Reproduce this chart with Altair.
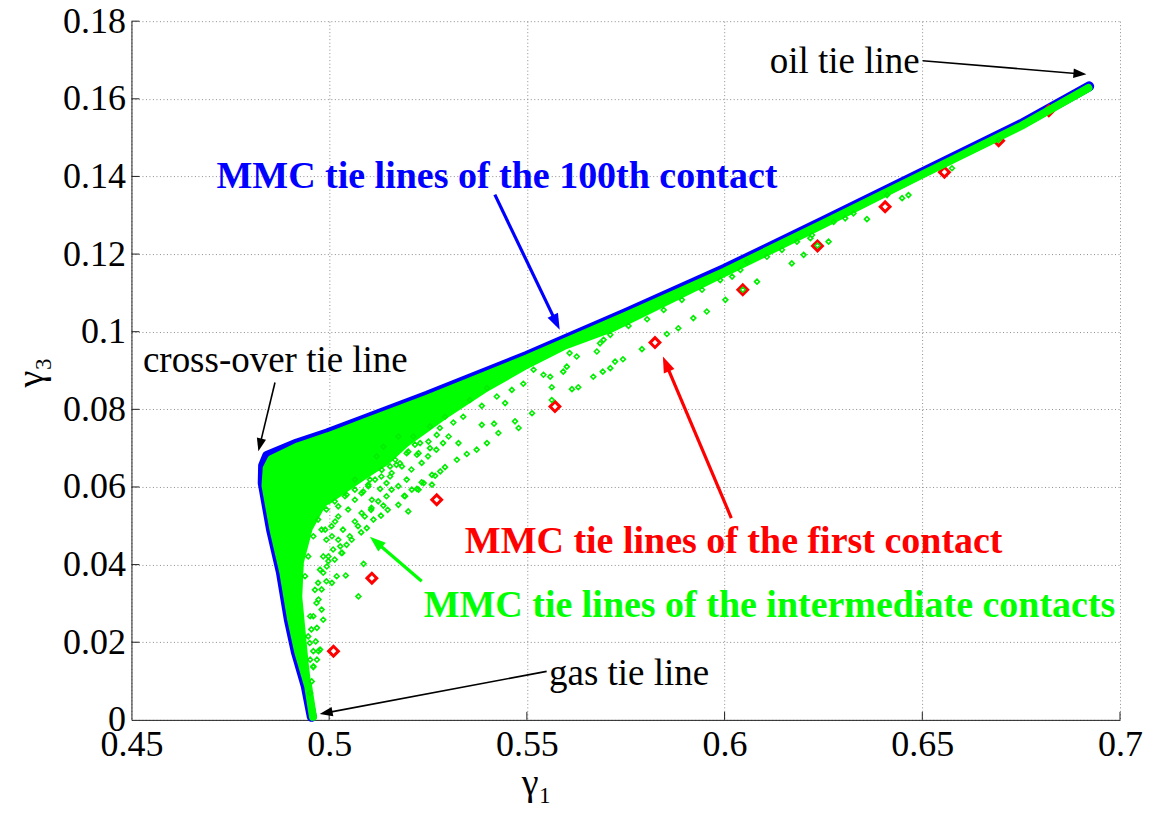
import math
import altair as alt
import pandas as pd

# ---------------- data ----------------
X_TICKS = [0.45, 0.5, 0.55, 0.6, 0.65, 0.7]
Y_TICKS = [0.0, 0.02, 0.04, 0.06, 0.08, 0.1, 0.12, 0.14, 0.16, 0.18]

# MMC tie lines of the 100th contact (blue band)
blue_x = [0.4956, 0.4941, 0.4916, 0.4898, 0.4878, 0.4853, 0.4832, 0.4833, 0.4843, 0.4919,
          0.4995, 0.5086, 0.5248, 0.5500, 0.5750, 0.6000, 0.6250, 0.6500, 0.6750, 0.6922]
blue_y = [0.0008, 0.0086, 0.0174, 0.0258, 0.0380, 0.0490, 0.0610, 0.0655, 0.0680, 0.0712,
          0.0738, 0.0773, 0.0835, 0.0938, 0.1048, 0.1162, 0.1285, 0.1410, 0.1535, 0.1632]

# outermost intermediate contact (green edge just inside the blue band)
c0_x = [0.4959, 0.4947, 0.4922, 0.4904, 0.4884, 0.4859, 0.4839, 0.4842, 0.4854, 0.4922,
        0.4998, 0.5088, 0.5249, 0.5500, 0.5750, 0.6000, 0.6250, 0.6500, 0.6750, 0.6920]
c0_y = [0.0008, 0.0086, 0.0174, 0.0258, 0.0380, 0.0490, 0.0603, 0.0648, 0.0672, 0.0705,
        0.0731, 0.0766, 0.0828, 0.0931, 0.1041, 0.1155, 0.1279, 0.1405, 0.1530, 0.1628]

# densely packed intermediate contacts: upper leg (x, upper edge, lower edge)
dense_top_x = [0.4840, 0.4870, 0.4900, 0.4950, 0.5000, 0.5050, 0.5100, 0.5150, 0.5200, 0.5300,
               0.5400, 0.5500, 0.5600, 0.5720, 0.5800, 0.6000, 0.6250, 0.6500, 0.6750, 0.6920]
dense_top_hi = [0.0640, 0.0684, 0.0697, 0.0714, 0.0732, 0.0751, 0.0770, 0.0789, 0.0809, 0.0848,
                0.0889, 0.0931, 0.0975, 0.1028, 0.1064, 0.1155, 0.1279, 0.1405, 0.1530, 0.1628]
dense_top_lo = [0.0600, 0.0570, 0.0555, 0.0545, 0.0555, 0.0590, 0.0625, 0.0658, 0.0705, 0.0778,
                0.0845, 0.0903, 0.0955, 0.1000, 0.1040, 0.1140, 0.1265, 0.1395, 0.1523, 0.1627]
# densely packed intermediate contacts: left leg (y, left edge, right edge)
dense_left_y = [0.0008, 0.0060, 0.0147, 0.0232, 0.0317, 0.0405, 0.0490, 0.0540, 0.0575, 0.0620]
dense_left_lo = [0.4959, 0.4950, 0.4930, 0.4911, 0.4897, 0.4880, 0.4859, 0.4850, 0.4843, 0.4840]
dense_left_hi = [0.4962, 0.4958, 0.4948, 0.4940, 0.4932, 0.4936, 0.4958, 0.4985, 0.5010, 0.5060]

# scattered intermediate-contact tie lines (green diamonds)
green_x = [
    0.5074, 0.5087, 0.5042, 0.5019, 0.5007, 0.4985, 0.4969, 0.4966, 0.4960, 0.4960,
    0.5065, 0.5082, 0.5106, 0.5112, 0.5095, 0.5081, 0.5131, 0.5137, 0.5148, 0.5175,
    0.5200, 0.5190, 0.5209, 0.5226, 0.5234, 0.5260, 0.5260, 0.5281, 0.5293, 0.5129,
    0.5108, 0.5099, 0.5133, 0.5154, 0.5184, 0.5167, 0.5200, 0.5226, 0.5217, 0.5251,
    0.5272, 0.5175, 0.5065, 0.5044, 0.5023, 0.5015, 0.4990, 0.5007, 0.5028, 0.5044,
    0.5057, 0.4985, 0.4977, 0.4994, 0.4964, 0.4973, 0.4981, 0.4952, 0.4947, 0.4952,
    0.4998, 0.5033,
    0.5470, 0.5479, 0.5428, 0.5417, 0.5386, 0.5399, 0.5373, 0.5348, 0.5323, 0.5268,
    0.5239, 0.5222, 0.5192, 0.5491, 0.5462, 0.5445, 0.5386, 0.5339, 0.5314, 0.5327,
    0.5302, 0.5280, 0.5255, 0.5230, 0.5222, 0.5196, 0.5179, 0.5154, 0.5103, 0.5086,
    0.5424, 0.5399, 0.5356, 0.5293, 0.5255, 0.5213, 0.5137, 0.5120,
    0.5723, 0.5743, 0.5711, 0.5692, 0.5668, 0.5630, 0.5614, 0.5563, 0.5563, 0.5513,
    0.5559, 0.5592, 0.5601, 0.5626, 0.5677, 0.5694, 0.5608, 0.5517, 0.5542,
    0.6305, 0.6263, 0.6217, 0.6200, 0.6170, 0.6145, 0.6107, 0.6082, 0.6040, 0.6019,
    0.6002, 0.5955, 0.5921, 0.5883, 0.5854, 0.5791, 0.5943, 0.5892, 0.5846, 0.5804,
    0.5757, 0.5711, 0.5685, 0.5989, 0.6057, 0.6183, 0.6046, 0.6235,
    0.6360, 0.6449, 0.6465, 0.6575, 0.6693, 0.6221, 0.6276, 0.6326, 0.6411,
    0.4973, 0.4969, 0.4960, 0.4956, 0.4952, 0.4977,
    0.4981, 0.4993, 0.5006, 0.5023, 0.5035, 0.5048, 0.5065, 0.5082, 0.5099, 0.5116,
    0.5132, 0.5145, 0.5158, 0.5170, 0.5023, 0.5010, 0.4998, 0.4985, 0.4972, 0.4968,
    0.4960, 0.4955, 0.4951, 0.4981, 0.4993, 0.5014, 0.5031, 0.5052, 0.5073, 0.5090,
    0.5107, 0.5124, 0.5145, 0.5158, 0.5175, 0.5196, 0.5208, 0.5234, 0.5250, 0.5271,
    0.5288, 0.5065, 0.5040, 0.5014, 0.4993, 0.4972, 0.4960, 0.4947, 0.4939,
]
green_y = [
    0.0318, 0.0402, 0.0372, 0.0370, 0.0353, 0.0258, 0.0237, 0.0202, 0.0177, 0.0136,
    0.0511, 0.0533, 0.0541, 0.0516, 0.0494, 0.0483, 0.0526, 0.0552, 0.0541, 0.0554,
    0.0537, 0.0577, 0.0593, 0.0593, 0.0612, 0.0606, 0.0631, 0.0640, 0.0651, 0.0595,
    0.0567, 0.0606, 0.0644, 0.0627, 0.0653, 0.0670, 0.0691, 0.0687, 0.0709, 0.0717,
    0.0734, 0.0730, 0.0619, 0.0580, 0.0550, 0.0511, 0.0490, 0.0473, 0.0447, 0.0451,
    0.0464, 0.0421, 0.0387, 0.0395, 0.0335, 0.0310, 0.0284, 0.0267, 0.0215, 0.0155,
    0.0421, 0.0430,
    0.0769, 0.0752, 0.0739, 0.0763, 0.0760, 0.0713, 0.0696, 0.0685, 0.0670, 0.0629,
    0.0610, 0.0595, 0.0576, 0.0866, 0.0850, 0.0816, 0.0809, 0.0781, 0.0766, 0.0713,
    0.0730, 0.0752, 0.0700, 0.0713, 0.0683, 0.0687, 0.0661, 0.0653, 0.0619, 0.0588,
    0.0833, 0.0855, 0.0824, 0.0781, 0.0756, 0.0730, 0.0704, 0.0679,
    0.0923, 0.0929, 0.0906, 0.0897, 0.0884, 0.0857, 0.0852, 0.0857, 0.0824, 0.0790,
    0.0884, 0.0897, 0.0910, 0.0936, 0.0949, 0.0979, 0.0945, 0.0902, 0.0889,
    0.1292, 0.1232, 0.1241, 0.1198, 0.1176, 0.1211, 0.1193, 0.1129, 0.1159, 0.1142,
    0.1082, 0.1052, 0.1035, 0.1009, 0.0994, 0.0955, 0.1108, 0.1082, 0.1056, 0.1032,
    0.1015, 0.0992, 0.0970, 0.1133, 0.1180, 0.1232, 0.1108, 0.1222,
    0.1290, 0.1344, 0.1352, 0.1421, 0.1494, 0.1249, 0.1283, 0.1305, 0.1352,
    0.0177, 0.0155, 0.0138, 0.0099, 0.0069, 0.0181,
    0.0490, 0.0464, 0.0499, 0.0524, 0.0490, 0.0542, 0.0567, 0.0584, 0.0602, 0.0619,
    0.0627, 0.0610, 0.0636, 0.0657, 0.0464, 0.0439, 0.0409, 0.0379, 0.0353, 0.0301,
    0.0267, 0.0233, 0.0198, 0.0336, 0.0357, 0.0413, 0.0430, 0.0473, 0.0499, 0.0524,
    0.0546, 0.0563, 0.0576, 0.0593, 0.0602, 0.0619, 0.0645, 0.0662, 0.0679, 0.0696,
    0.0713, 0.0593, 0.0576, 0.0563, 0.0542, 0.0516, 0.0473, 0.0421, 0.0370,
]

# MMC tie lines of the first contact (red diamonds)
red_x = [0.5011, 0.5108, 0.5272, 0.5571, 0.5824, 0.6046, 0.6235, 0.6406, 0.6556, 0.6693, 0.6820]
red_y = [0.0177, 0.0365, 0.0567, 0.0807, 0.0972, 0.1108, 0.1221, 0.1322, 0.1411, 0.1492, 0.1569]

# annotations
label_text = ["oil tie line", "cross-over tie line", "gas tie line",
              "MMC tie lines of the 100th contact", "MMC tie lines of the first contact",
              "MMC tie lines of the intermediate contacts"]
label_x = [0.6114, 0.4529, 0.5556, 0.4715, 0.5343, 0.5239]
label_y = [0.1667, 0.0895, 0.0091, 0.1370, 0.0430, 0.0265]
label_color = ["black", "black", "black", "#0000ff", "#ff0000", "#00ff00"]
label_bold = [False, False, False, True, True, True]

arrow_x0 = [0.6501, 0.4863, 0.5550, 0.5419, 0.6017, 0.5234]
arrow_y0 = [0.1698, 0.0869, 0.0125, 0.1353, 0.0520, 0.0357]
arrow_x1 = [0.6915, 0.4821, 0.4976, 0.5583, 0.5844, 0.5103]
arrow_y1 = [0.1663, 0.0692, 0.0015, 0.1005, 0.0936, 0.0472]
arrow_color = ["black", "black", "black", "#0000ff", "#ff0000", "#00ff00"]
arrow_width = [1.6, 1.6, 1.6, 3.2, 3.2, 3.2]
arrow_head = [13, 13, 13, 16, 16, 16]

# ---------------- geometry helpers ----------------
W, H = 989, 699
XPP = (X_TICKS[-1] - X_TICKS[0]) / W
YPP = (Y_TICKS[-1] - Y_TICKS[0]) / H
FONT = "Liberation Serif, Times New Roman, Tinos, DejaVu Serif, serif"
GREEN = "#00ff00"

xs = alt.Scale(domain=[X_TICKS[0], X_TICKS[-1]], nice=False, zero=False)
ys = alt.Scale(domain=[Y_TICKS[0], Y_TICKS[-1]], nice=False, zero=False)

x_axis = alt.Axis(values=X_TICKS, format=".2~f", title="γ₁", grid=True,
                  gridColor="#8c8c8c", gridDash=[1, 2.5], gridWidth=1, ticks=False,
                  domainColor="#202020", domainWidth=1, labelFont=FONT, labelFontSize=36,
                  labelColor="black", labelPadding=8, labelFlush=False, labelOverlap=False,
                  titleFont=FONT, titleFontSize=38, titleFontWeight="normal", titleColor="black",
                  titleX=405, titleY=75, titleAlign="center", titleBaseline="alphabetic")
y_axis = alt.Axis(values=Y_TICKS, format=".2~f", title="γ₃", grid=True,
                  gridColor="#8c8c8c", gridDash=[1, 2.5], gridWidth=1, ticks=False,
                  domainColor="#202020", domainWidth=1, labelFont=FONT, labelFontSize=36,
                  labelColor="black", labelPadding=6, labelFlush=False, labelOverlap=False,
                  titleFont=FONT, titleFontSize=38, titleFontWeight="normal", titleColor="black",
                  titleX=-100, titleY=351, titleAngle=270, titleAlign="center",
                  titleBaseline="middle")


def X(f="x"):
    return alt.X(f"{f}:Q", scale=xs, axis=x_axis)


def Y(f="y"):
    return alt.Y(f"{f}:Q", scale=ys, axis=y_axis)


# ---------------- tables ----------------
blue_df = pd.DataFrame({"x": blue_x, "y": blue_y, "o": range(len(blue_x))})
c0_df = pd.DataFrame({"x": c0_x, "y": c0_y, "o": range(len(c0_x))})
top_df = pd.DataFrame({"x": dense_top_x, "y": dense_top_lo, "y2": dense_top_hi})
left_df = pd.DataFrame({"y": dense_left_y, "x": dense_left_lo, "x2": dense_left_hi})
green_df = pd.DataFrame({"x": green_x, "y": green_y})
red_df = pd.DataFrame({"x": red_x, "y": red_y})
lab_df = pd.DataFrame({"x": label_x, "y": label_y, "t": label_text,
                       "col": label_color, "bold": label_bold})

rows = []
for x0, y0, x1, y1, col, sw, hl in zip(arrow_x0, arrow_y0, arrow_x1, arrow_y1,
                                       arrow_color, arrow_width, arrow_head):
    dxp = (x1 - x0) / XPP
    dyp = -(y1 - y0) / YPP
    L = math.hypot(dxp, dyp)
    ux, uy = dxp / L, dyp / L
    xe = x1 - ux * hl * 0.6 * XPP
    ye = y1 + uy * hl * 0.6 * YPP
    ang = math.degrees(math.atan2(ux, -uy)) % 360
    rows.append({"x": x0, "y": y0, "x2": xe, "y2": ye, "tx": x1, "ty": y1,
                 "col": col, "sw": sw, "ang": ang, "hs": 4 * hl * hl})
arrow_df = pd.DataFrame(rows)

tick_rows = []
for v in Y_TICKS[1:]:
    tick_rows.append({"x": X_TICKS[0], "x2": X_TICKS[0] + 8 * XPP, "y": v, "y2": v})
for v in X_TICKS[1:]:
    tick_rows.append({"x": v, "x2": v, "y": Y_TICKS[0], "y2": Y_TICKS[0] + 8 * YPP})
tick_df = pd.DataFrame(tick_rows)

# ---------------- layers ----------------
ticks = alt.Chart(tick_df).mark_rule(color="#202020", strokeWidth=1).encode(
    x=X(), y=Y(), x2="x2:Q", y2="y2:Q")

blue = alt.Chart(blue_df).mark_line(color="#0000ff", strokeWidth=10, strokeJoin="round",
                                    strokeCap="round").encode(x=X(), y=Y(), order="o:Q")

red = alt.Chart(red_df).mark_point(shape="diamond", filled=False, color="#ff0000",
                                   size=95, strokeWidth=3, opacity=1).encode(x=X(), y=Y())

dense_top = alt.Chart(top_df).mark_area(color=GREEN, opacity=1).encode(
    x=X(), y=Y(), y2="y2:Q")
dense_left = alt.Chart(left_df).mark_area(color=GREEN, opacity=1, orient="horizontal").encode(
    x=X(), y=Y(), x2="x2:Q")

c0 = alt.Chart(c0_df).mark_line(color=GREEN, strokeWidth=8, strokeJoin="round",
                                strokeCap="round").encode(x=X(), y=Y(), order="o:Q")

green = alt.Chart(green_df).mark_point(shape="diamond", filled=False, color="#00ee00",
                                       size=24, strokeWidth=1.6, opacity=1).encode(x=X(), y=Y())

shafts = alt.Chart(arrow_df).mark_rule().encode(
    x=X(), y=Y(), x2="x2:Q", y2="y2:Q",
    color=alt.Color("col:N", scale=None, legend=None),
    strokeWidth=alt.StrokeWidth("sw:Q", scale=None, legend=None))

heads = alt.Chart(arrow_df).mark_point(shape="M0,0L-0.36,1L0.36,1Z", filled=True,
                                       opacity=1, strokeWidth=0).encode(
    x=X("tx"), y=Y("ty"),
    color=alt.Color("col:N", scale=None, legend=None),
    angle=alt.Angle("ang:Q", scale=None),
    size=alt.Size("hs:Q", scale=None, legend=None))

txt_normal = alt.Chart(lab_df).transform_filter("!datum.bold").mark_text(
    font=FONT, fontSize=37, align="left", baseline="alphabetic").encode(
    x=X(), y=Y(), text="t:N", color=alt.Color("col:N", scale=None, legend=None))

txt_bold = alt.Chart(lab_df).transform_filter("datum.bold").mark_text(
    font=FONT, fontSize=38, fontWeight="bold", align="left", baseline="alphabetic").encode(
    x=X(), y=Y(), text="t:N", color=alt.Color("col:N", scale=None, legend=None))

chart = alt.layer(ticks, blue, red, dense_top, dense_left, c0, green, shafts, heads,
                  txt_normal, txt_bold).properties(
    width=W, height=H, autosize=alt.AutoSizeParams(type="none"),
    padding={"left": 123.5, "top": 13, "right": 25, "bottom": 86},
    background="white",
).configure_view(stroke=None)

chart.save("out.html", embed_options={"renderer": "svg", "actions": False})
